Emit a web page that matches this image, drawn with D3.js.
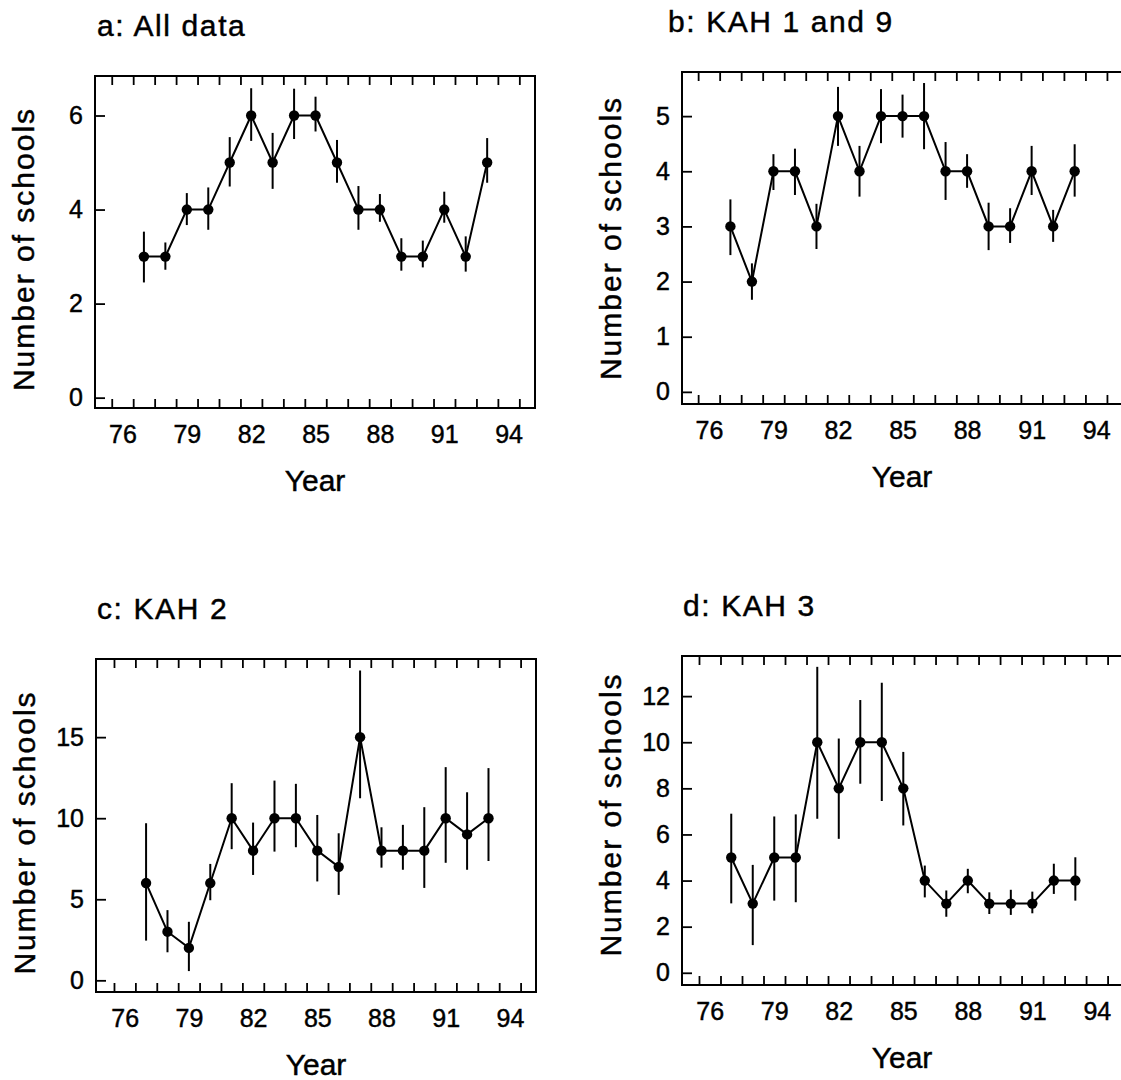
<!DOCTYPE html>
<html>
<head>
<meta charset="utf-8">
<script src="https://cdn.jsdelivr.net/npm/d3@7"></script>
<style>
  html, body { margin: 0; padding: 0; background: #fff; }
  svg { display: block; }
  text { font-family: "Liberation Sans", Arial, Helvetica, sans-serif; fill: #000; stroke: #000; stroke-width: 0.45px; }
</style>
</head>
<body>
<svg id="chart" width="1121" height="1080"></svg>
<script>
// Survey years (19xx)
const years = [77, 78, 79, 80, 81, 82, 83, 84, 85, 86, 87, 88, 89, 90, 91, 92, 93];
const xTickLabels = [76, 79, 82, 85, 88, 91, 94];

// a: All data
const allValues = [3, 3, 4, 4, 5, 6, 5, 6, 6, 5, 4, 4, 3, 3, 4, 3, 5];
const allLow    = [2.45, 2.72, 3.67, 3.57, 4.49, 5.46, 4.44, 5.50, 5.66, 4.57, 3.57, 3.74, 2.70, 2.77, 3.72, 2.68, 4.57];
const allHigh   = [3.53, 3.30, 4.35, 4.47, 5.54, 6.58, 5.63, 6.57, 6.40, 5.48, 4.50, 4.33, 3.39, 3.34, 4.38, 3.43, 5.52];
const allYTicks = [0, 2, 4, 6];

// b: KAH 1 and 9
const kah19Values = [3, 2, 4, 4, 3, 5, 4, 5, 5, 5, 4, 4, 3, 3, 4, 3, 4];
const kah19Low    = [2.48, 1.67, 3.66, 3.57, 2.59, 4.46, 3.54, 4.51, 4.61, 4.40, 3.48, 3.70, 2.57, 2.70, 3.57, 2.72, 3.54];
const kah19High   = [3.49, 2.33, 4.31, 4.41, 3.41, 5.53, 4.46, 5.49, 5.39, 5.60, 4.53, 4.31, 3.43, 3.33, 4.46, 3.30, 4.49];
const kah19YTicks = [0, 1, 2, 3, 4, 5];

// c: KAH 2
const kah2Values = [6, 3, 2, 6, 10, 8, 10, 10, 8, 7, 15, 8, 8, 8, 10, 9, 10];
const kah2Low    = [2.45, 1.73, 0.57, 4.94, 8.09, 6.50, 7.94, 8.21, 6.10, 5.27, 11.23, 6.95, 6.82, 5.70, 7.25, 6.82, 7.36];
const kah2High   = [9.69, 4.33, 3.61, 7.18, 12.16, 9.73, 12.32, 12.12, 10.20, 9.07, 19.11, 9.44, 9.59, 10.68, 13.15, 11.60, 13.09];
const kah2YTicks = [0, 5, 10, 15];

// d: KAH 3
const kah3Values = [5, 3, 5, 5, 10, 8, 10, 10, 8, 4, 3, 4, 3, 3, 3, 4, 4];
const kah3Low    = [3.01, 1.20, 3.13, 3.06, 6.68, 5.81, 8.20, 7.45, 6.39, 3.27, 2.43, 3.45, 2.55, 2.51, 2.58, 3.42, 3.13];
const kah3High   = [6.90, 4.68, 6.78, 6.87, 13.27, 10.16, 11.83, 12.58, 9.58, 4.65, 3.57, 4.51, 3.49, 3.60, 3.52, 4.73, 5.01];
const kah3YTicks = [0, 2, 4, 6, 8, 10, 12];

// Minor year ticks sit between the labelled years
const yearTicks = d3.range(75.5, 95, 1);

const panels = [
  { title: "a: All data",     values: allValues,   low: allLow,   high: allHigh,   yTicks: allYTicks,
    box: { x0: 95,  x1: 535,  y0: 76,  y1: 408 }, xDom: [74.72, 95.23], yDom: [-0.22, 6.84], titleDx: 2,   ylabDy: 7 },
  { title: "b: KAH 1 and 9",  values: kah19Values, low: kah19Low, high: kah19High, yTicks: kah19YTicks,
    box: { x0: 682, x1: 1122, y0: 72,  y1: 404 }, xDom: [74.75, 95.20], yDom: [-0.22, 5.80], titleDx: -14, ylabDy: 0 },
  { title: "c: KAH 2",        values: kah2Values,  low: kah2Low,  high: kah2High,  yTicks: kah2YTicks,
    box: { x0: 96,  x1: 536,  y0: 659, y1: 992 }, xDom: [74.66, 95.22], yDom: [-0.72, 19.82], titleDx: 1,  ylabDy: 7 },
  { title: "d: KAH 3",        values: kah3Values,  low: kah3Low,  high: kah3High,  yTicks: kah3YTicks,
    box: { x0: 682, x1: 1122, y0: 656, y1: 985 }, xDom: [74.71, 95.17], yDom: [-0.53, 13.74], titleDx: 1, ylabDy: -6 }
];

const svg = d3.select("#chart");
svg.append("rect").attr("width", 1121).attr("height", 1080).attr("fill", "#fff");

panels.forEach(p => {
  const b = p.box;
  const x = d3.scaleLinear().domain(p.xDom).range([b.x0, b.x1]);
  const y = d3.scaleLinear().domain(p.yDom).range([b.y1, b.y0]);
  const g = svg.append("g");

  // Title
  g.append("text")
    .attr("x", b.x0 + p.titleDx).attr("y", b.y0 - 40)
    .attr("font-size", 30).attr("letter-spacing", 1.6)
    .text(p.title);

  // Bottom axis: inward year ticks, labels every three years
  const bottom = g.append("g").attr("transform", `translate(0,${b.y1})`)
    .call(d3.axisBottom(x).tickValues(yearTicks).tickSize(-9).tickFormat(""));
  bottom.select(".domain").remove();
  bottom.selectAll(".tick line").attr("stroke", "#000").attr("stroke-width", 1.8);

  const labels = g.append("g").attr("transform", `translate(0,${b.y1})`)
    .call(d3.axisBottom(x).tickValues(xTickLabels).tickSize(0).tickPadding(0).tickFormat(d3.format("d")));
  labels.select(".domain").remove();
  labels.selectAll(".tick text")
    .attr("font-size", 25).attr("dy", null).attr("y", 35)
    .attr("font-family", "\"Liberation Sans\", Arial, sans-serif").attr("fill", "#000");

  // Top axis: inward year ticks
  const top = g.append("g").attr("transform", `translate(0,${b.y0})`)
    .call(d3.axisTop(x).tickValues(yearTicks).tickSize(-9).tickFormat(""));
  top.select(".domain").remove();
  top.selectAll(".tick line").attr("stroke", "#000").attr("stroke-width", 1.8);

  // Left axis: inward ticks with labels
  const left = g.append("g").attr("transform", `translate(${b.x0},0)`)
    .call(d3.axisLeft(y).tickValues(p.yTicks).tickSize(-10).tickPadding(12).tickFormat(d3.format("d")));
  left.select(".domain").remove();
  left.selectAll(".tick line").attr("stroke", "#000").attr("stroke-width", 1.8);
  left.selectAll(".tick text")
    .attr("font-size", 25).attr("x", -12)
    .attr("font-family", "\"Liberation Sans\", Arial, sans-serif").attr("fill", "#000");

  // Frame
  g.append("rect")
    .attr("x", b.x0).attr("y", b.y0)
    .attr("width", b.x1 - b.x0).attr("height", b.y1 - b.y0)
    .attr("fill", "none").attr("stroke", "#000").attr("stroke-width", 2);

  // Axis titles
  g.append("text")
    .attr("x", (b.x0 + b.x1) / 2).attr("y", b.y1 + 83)
    .attr("text-anchor", "middle").attr("font-size", 30)
    .text("Year");
  g.append("text")
    .attr("transform", `translate(${b.x0 - 61},${(b.y0 + b.y1) / 2 + p.ylabDy}) rotate(-90)`)
    .attr("text-anchor", "middle").attr("font-size", 30).attr("letter-spacing", 2)
    .text("Number of schools");

  const rows = years.map((yr, i) => ({ yr, v: p.values[i], lo: p.low[i], hi: p.high[i] }));

  // Error bars
  g.selectAll(".err").data(rows).join("line")
    .attr("x1", d => x(d.yr)).attr("x2", d => x(d.yr))
    .attr("y1", d => y(d.lo)).attr("y2", d => y(d.hi))
    .attr("stroke", "#000").attr("stroke-width", 2);

  // Connecting line
  g.append("path").datum(rows)
    .attr("d", d3.line().x(d => x(d.yr)).y(d => y(d.v)))
    .attr("fill", "none").attr("stroke", "#000").attr("stroke-width", 2);

  // Points
  g.selectAll(".pt").data(rows).join("circle")
    .attr("cx", d => x(d.yr)).attr("cy", d => y(d.v)).attr("r", 5.2)
    .attr("fill", "#000");
});
</script>
</body>
</html>
